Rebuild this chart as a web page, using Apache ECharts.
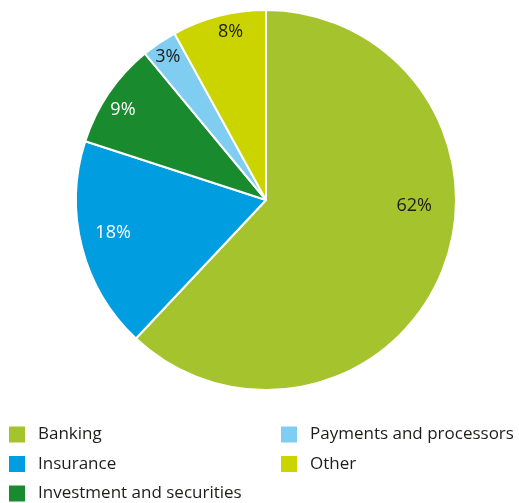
<!DOCTYPE html>
<html>
<head>
<meta charset="utf-8">
<style>
  html, body { margin: 0; padding: 0; background: #fff; }
  #chart { width: 519px; height: 503px; }
</style>
<script src="https://cdn.jsdelivr.net/npm/echarts@6/dist/echarts.min.js"></script>
</head>
<body>
<div id="chart"></div>
<script>
// Sector shares (percent)
const categories = ['Banking', 'Insurance', 'Investment and securities', 'Payments and processors', 'Other'];
const shares = [62, 18, 9, 3, 8];
const colors = ['#a5c32d', '#009ee0', '#1a8a2e', '#7fcdf0', '#ccd400'];
const labelColors = ['#1d1d1b', '#ffffff', '#ffffff', '#1d1d1b', '#1d1d1b'];
// Nudge each percentage label away from the sector centre
const labelOffsets = [[57, -30], [-58, 9], [-62, -35], [-43, -62], [-11, -73]];

const legendCol1 = categories.slice(0, 3);
const legendCol2 = categories.slice(3);

const font = '"Open Sans", "Noto Sans", sans-serif';

const chart = echarts.init(document.getElementById('chart'), null, { renderer: 'canvas' });

const legendBase = {
  orient: 'vertical',
  padding: 0,
  height: 90,
  itemWidth: 16,
  itemHeight: 16,
  itemGap: 12.5,
  icon: 'rect',
  itemStyle: { borderWidth: 0 },
  textStyle: { fontFamily: font, fontSize: 17, lineHeight: 17, color: '#1d1d1b', padding: [0, 0, 0, 8] },
  selectedMode: false
};

chart.setOption({
  animation: false,
  color: colors,
  legend: [
    Object.assign({}, legendBase, { data: legendCol1, left: 9, top: 426 }),
    Object.assign({}, legendBase, { data: legendCol2, left: 281, top: 426 })
  ],
  series: [{
    type: 'pie',
    center: [266, 200],
    radius: [0, 190],
    startAngle: 90,
    clockwise: true,
    avoidLabelOverlap: false,
    itemStyle: { borderColor: '#ffffff', borderWidth: 2 },
    label: {
      show: true,
      position: 'inside',
      fontFamily: font,
      fontSize: 18,
      formatter: '{c}%'
    },
    labelLine: { show: false },
    emphasis: { disabled: true },
    data: categories.map((name, i) => ({
      name,
      value: shares[i],
      label: { color: labelColors[i], offset: labelOffsets[i] }
    }))
  }]
});
</script>
</body>
</html>
